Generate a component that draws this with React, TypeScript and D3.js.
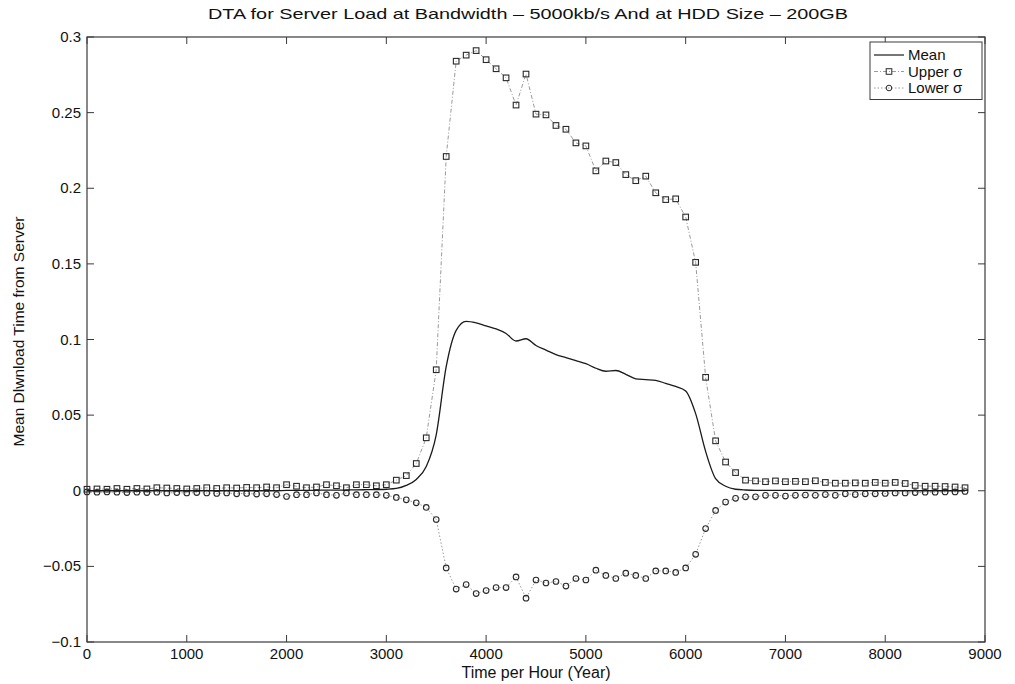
import * as d3 from 'd3';

// ─── Data ───────────────────────────────────────────────────
const hours = [
  0, 100, 200, 300, 400, 500, 600, 700, 800, 900,
  1000, 1100, 1200, 1300, 1400, 1500, 1600, 1700, 1800, 1900,
  2000, 2100, 2200, 2300, 2400, 2500, 2600, 2700, 2800, 2900,
  3000, 3100, 3200, 3300, 3400, 3500, 3600, 3700, 3800, 3900,
  4000, 4100, 4200, 4300, 4400, 4500, 4600, 4700, 4800, 4900,
  5000, 5100, 5200, 5300, 5400, 5500, 5600, 5700, 5800, 5900,
  6000, 6100, 6200, 6300, 6400, 6500, 6600, 6700, 6800, 6900,
  7000, 7100, 7200, 7300, 7400, 7500, 7600, 7700, 7800, 7900,
  8000, 8100, 8200, 8300, 8400, 8500, 8600, 8700, 8800,
];

const meanValues = [
  0, 0, 0, 0, 0, 0, 0, 0, 0, 0,
  0, 0, 0, 0, 0, 0, 0, 0, 0, 0,
  0.0002, 0.0002, 0.0003, 0.0003, 0.0004, 0.0004, 0.0005, 0.0006, 0.0007, 0.0008,
  0.001, 0.0015, 0.0035, 0.0075, 0.016, 0.037, 0.082, 0.106, 0.112, 0.111,
  0.109, 0.107, 0.104, 0.099, 0.1005, 0.096, 0.093, 0.09, 0.088, 0.086,
  0.084, 0.081, 0.079, 0.0795, 0.077, 0.074, 0.0735, 0.073, 0.071, 0.069,
  0.066, 0.051, 0.026, 0.008, 0.003, 0.001, 0.0005, 0.0003, 0.0003, 0.0002,
  0.0002, 0.0002, 0.0002, 0.0001, 0.0001, 0.0001, 0.0001, 0.0001, 0.0001, 0,
  0, 0, 0, 0, 0, 0, 0, 0, 0,
];

const upperValues = [
  0.001, 0.0012, 0.001, 0.0015, 0.001, 0.0015, 0.0012, 0.002, 0.0018, 0.0015,
  0.0012, 0.0015, 0.002, 0.0015, 0.002, 0.0018, 0.0022, 0.002, 0.0025, 0.002,
  0.004, 0.003, 0.002, 0.0025, 0.004, 0.0033, 0.002, 0.004, 0.004, 0.0033,
  0.004, 0.007, 0.01, 0.018, 0.035, 0.08, 0.221, 0.284, 0.288, 0.291,
  0.285, 0.279, 0.273, 0.255, 0.2755, 0.249, 0.2485, 0.2415, 0.239, 0.23,
  0.228, 0.2115, 0.218, 0.217, 0.209, 0.205, 0.208, 0.197, 0.1925, 0.193,
  0.181, 0.151, 0.075, 0.033, 0.019, 0.012, 0.007, 0.0065, 0.006, 0.0065,
  0.006, 0.0062, 0.006, 0.0066, 0.0055, 0.005, 0.005, 0.0052, 0.005, 0.0055,
  0.005, 0.0055, 0.0048, 0.0035, 0.003, 0.003, 0.0028, 0.0025, 0.002,
];

const lowerValues = [
  -0.0008, -0.001, -0.0008, -0.001, -0.0012, -0.001, -0.0012, -0.001, -0.0015, -0.0012,
  -0.0015, -0.0012, -0.0015, -0.0018, -0.0015, -0.002, -0.0018, -0.0022, -0.002, -0.0025,
  -0.0038, -0.0026, -0.0026, -0.0015, -0.0026, -0.003, -0.0015, -0.0026, -0.0026, -0.0026,
  -0.003, -0.0044, -0.006, -0.008, -0.011, -0.019, -0.051, -0.065, -0.062, -0.068,
  -0.066, -0.064, -0.064, -0.057, -0.071, -0.059, -0.061, -0.06, -0.063, -0.058,
  -0.059, -0.0525, -0.056, -0.058, -0.0545, -0.056, -0.058, -0.053, -0.053, -0.054,
  -0.051, -0.042, -0.025, -0.013, -0.0075, -0.005, -0.004, -0.004, -0.003, -0.003,
  -0.0035, -0.003, -0.0028, -0.003, -0.0025, -0.003, -0.002, -0.0025, -0.002, -0.002,
  -0.0018, -0.0015, -0.0015, -0.0012, -0.001, -0.001, -0.0008, -0.0008, -0.0005,
];

const xTicks = [0, 1000, 2000, 3000, 4000, 5000, 6000, 7000, 8000, 9000];
const yTicks = [-0.1, -0.05, 0, 0.05, 0.1, 0.15, 0.2, 0.25, 0.3];
const legendLabels = ['Mean', 'Upper σ', 'Lower σ'];

const title = 'DTA for Server Load at Bandwidth – 5000kb/s And at HDD Size – 200GB';
const xTitle = 'Time per Hour (Year)';
const yTitle = 'Mean Dlwnload Time from Server';

// ─── Layout ─────────────────────────────────────────────────
const W = 1015;
const H = 684;
const plot = { left: 87, right: 985, top: 37, bottom: 642 };
const FONT = 'Liberation Sans, Arial, Helvetica, sans-serif';
const AXIS = '#3a3a3a';
const LINE_GRAY = '#9a9a9a';
const MARK = '#2a2a2a';
const TICK = 7;

export default function App() {
  const x = d3.scaleLinear().domain([0, 9000]).range([plot.left, plot.right]);
  const y = d3.scaleLinear().domain([-0.1, 0.3]).range([plot.bottom, plot.top]);

  const pts = (vals: number[]) => hours.map((h, i) => [h, vals[i]] as [number, number]);

  const smooth = d3
    .line<[number, number]>()
    .x((d) => x(d[0]))
    .y((d) => y(d[1]))
    .curve(d3.curveMonotoneX);

  const straight = d3
    .line<[number, number]>()
    .x((d) => x(d[0]))
    .y((d) => y(d[1]));

  const meanPts = pts(meanValues);
  const upperPts = pts(upperValues);
  const lowerPts = pts(lowerValues);

  // legend geometry
  const lg = { left: 870, right: 982, top: 42, rowH: 16.5 };
  const lgRows = legendLabels.map((_, i) => lg.top + 13 + i * lg.rowH);

  return (
    <svg
      width={W}
      height={H}
      style={{ position: 'absolute', left: 0, top: 0, background: '#fff' }}
      fontFamily={FONT}
    >
      <rect x={0} y={0} width={W} height={H} fill="#fff" />

      {/* title */}
      <text
        x={528}
        y={19}
        textAnchor="middle"
        fontSize={15}
        fill="#111"
        textLength={640}
        lengthAdjust="spacingAndGlyphs"
      >
        {title}
      </text>

      {/* axis frame */}
      <rect
        x={plot.left}
        y={plot.top}
        width={plot.right - plot.left}
        height={plot.bottom - plot.top}
        fill="none"
        stroke={AXIS}
        strokeWidth={1.2}
      />

      {/* x ticks (bottom + top, inward) */}
      {xTicks.map((t) => (
        <g key={'xt' + t}>
          <line x1={x(t)} x2={x(t)} y1={plot.bottom} y2={plot.bottom - TICK} stroke={AXIS} />
          <line x1={x(t)} x2={x(t)} y1={plot.top} y2={plot.top + TICK} stroke={AXIS} />
          <text x={x(t)} y={plot.bottom + 17} textAnchor="middle" fontSize={15} fill="#111">
            {t}
          </text>
        </g>
      ))}

      {/* y ticks (left + right, inward) */}
      {yTicks.map((t) => (
        <g key={'yt' + t}>
          <line x1={plot.left} x2={plot.left + TICK} y1={y(t)} y2={y(t)} stroke={AXIS} />
          <line x1={plot.right} x2={plot.right - TICK} y1={y(t)} y2={y(t)} stroke={AXIS} />
          <text x={plot.left - 6} y={y(t) + 5} textAnchor="end" fontSize={15} fill="#111">
            {t < 0 ? '\u2212' + Math.abs(t) : String(t)}
          </text>
        </g>
      ))}

      {/* axis titles */}
      <text
        x={(plot.left + plot.right) / 2}
        y={H - 6}
        textAnchor="middle"
        fontSize={16}
        fill="#111"
      >
        {xTitle}
      </text>
      <text
        transform={`translate(24, ${(plot.top + plot.bottom) / 2 - 8}) rotate(-90)`}
        textAnchor="middle"
        fontSize={15.5}
        fill="#111"
      >
        {yTitle}
      </text>

      {/* upper σ */}
      <path
        d={straight(upperPts) ?? ''}
        fill="none"
        stroke={LINE_GRAY}
        strokeWidth={1}
        strokeDasharray="4,2,1,2"
      />
      {upperPts.map((d, i) => (
        <rect
          key={'u' + i}
          x={x(d[0]) - 2.8}
          y={y(d[1]) - 2.8}
          width={5.6}
          height={5.6}
          fill="none"
          stroke={MARK}
          strokeWidth={1.1}
        />
      ))}

      {/* lower σ */}
      <path
        d={straight(lowerPts) ?? ''}
        fill="none"
        stroke={LINE_GRAY}
        strokeWidth={1}
        strokeDasharray="1.5,2"
      />
      {lowerPts.map((d, i) => (
        <circle
          key={'l' + i}
          cx={x(d[0])}
          cy={y(d[1])}
          r={2.8}
          fill="none"
          stroke={MARK}
          strokeWidth={1.1}
        />
      ))}

      {/* mean */}
      <path d={smooth(meanPts) ?? ''} fill="none" stroke="#1a1a1a" strokeWidth={1.3} />

      {/* legend */}
      <rect
        x={lg.left}
        y={lg.top}
        width={lg.right - lg.left}
        height={lg.rowH * 3 + 8}
        fill="#fff"
        stroke={AXIS}
        strokeWidth={1}
      />
      {legendLabels.map((label, i) => {
        const cy = lgRows[i];
        const x1 = lg.left + 4;
        const x2 = lg.left + 34;
        const mid = (x1 + x2) / 2;
        return (
          <g key={'lg' + i}>
            <line
              x1={x1}
              x2={x2}
              y1={cy}
              y2={cy}
              stroke={i === 0 ? '#1a1a1a' : LINE_GRAY}
              strokeWidth={i === 0 ? 1.2 : 1}
              strokeDasharray={i === 0 ? undefined : i === 1 ? '4,2,1,2' : '1.5,2'}
            />
            {i === 1 && (
              <rect x={mid - 2.8} y={cy - 2.8} width={5.6} height={5.6} fill="none" stroke={MARK} />
            )}
            {i === 2 && <circle cx={mid} cy={cy} r={2.8} fill="none" stroke={MARK} />}
            <text x={x2 + 4} y={cy + 5} fontSize={15} fill="#111">
              {label}
            </text>
          </g>
        );
      })}
    </svg>
  );
}
